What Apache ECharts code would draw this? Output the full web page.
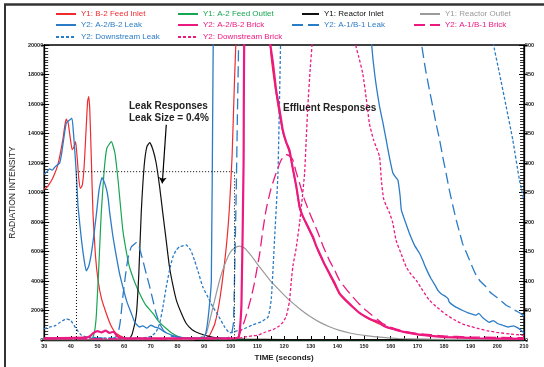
<!DOCTYPE html>
<html>
<head>
<meta charset="utf-8">
<script src="https://cdn.jsdelivr.net/npm/echarts@6/dist/echarts.min.js"></script>
<style>
  html, body { margin: 0; padding: 0; background: #fff; }
  #chart { width: 544px; height: 367px; }
</style>
</head>
<body>
<div id="chart"></div>
<script>
// [time (s), value] pairs
// Y1 series (left axis, 0-20000)
const b2FeedInlet = [[30,10230],[31,10350],[32,10600],[33,10900],[34,11300],[35,11800],[36,12600],[37,13600],[37.8,14600],[38.3,14970],[39,14700],[39.7,13800],[40.5,12900],[41.2,13100],[41.8,13450],[42.4,12300],[43,10900],[43.6,10280],[44.3,10500],[45,11800],[45.7,14200],[46.3,16200],[46.7,16500],[47.1,15600],[47.6,12800],[48.3,8600],[49.2,5800],[50.2,4050],[51.5,2800],[53.3,1800],[55,1000],[57,440],[60,150],[65,60],[70,40],[80,30],[88,40],[90,80],[92,300],[94,1100],[96,2900],[98.3,6300],[99.5,9000],[100.5,12500],[101.4,17650],[102.5,23000],[104,32000],[108,40000],[112,28000],[115,19500],[117,16700],[119.5,14100],[122,12700],[124.6,10300],[125.8,8950],[128.3,7850],[130.8,6900],[133.3,5800],[137,4450],[140.8,3100],[145.8,2200],[150.8,1520],[157,980],[162,660],[166,500],[171,350],[181,200],[193,120],[210,80]];
const a2FeedOutlet = [[30,20],[45,20],[48,100],[49,700],[49.6,1800],[50.5,5000],[51.4,8600],[52.5,11500],[53.5,13000],[55.2,13450],[56.5,12700],[57.7,10850],[59.5,7450],[61,5800],[62,4950],[64,3900],[65.8,3160],[68,2400],[70.8,1800],[73,1250],[75.8,780],[78,450],[80.8,190],[85,60],[90,20],[100,10],[210,0]];
const reactorInlet = [[30,30],[60,30],[62,100],[63,400],[64.6,1800],[65.5,4500],[66.4,8600],[67.5,11800],[68.5,13100],[69.6,13380],[70.8,12900],[72,12000],[73.3,10400],[74.5,8600],[75.8,6700],[77,4950],[78.3,3700],[79.6,2690],[81.5,1800],[83.3,1120],[85.5,700],[88.3,440],[93,200],[98,100],[105,60],[120,30],[210,10]];
const reactorOutlet = [[30,10],[86,10],[88.3,150],[90.8,440],[93,2000],[95.8,4050],[97.5,5000],[99.6,5880],[101.5,6250],[103.3,6360],[105,6250],[107.5,5750],[110.8,4950],[114.5,4100],[118.3,3370],[122,2700],[125.8,2120],[129.5,1620],[133.3,1210],[137,900],[140.8,650],[145,460],[150.8,300],[157,180],[163,100],[175,60],[190,40],[210,30]];

// Y2 series (right axis, 0-500)
const a2b2Leak = [[30,281],[31,285],[32,290],[33,288],[34,293],[35,297],[35.8,300],[36.5,315],[37.3,340],[38.3,368],[39.3,372],[40.4,376],[41,350],[41.8,300],[42.3,260],[42.7,226],[44,169],[45,135],[45.8,117],[46.7,125],[47.7,147],[48.7,180],[49.6,214],[50.6,255],[51.7,275],[52.5,268],[53.3,257],[54,240],[54.6,215],[55.8,175],[57.1,141],[58.3,112],[59.5,90],[61,65],[62.7,45],[64,30],[65.8,22],[67,24],[68.5,20],[70,25],[71.5,22],[73,20],[75,14],[78,8],[82,4],[88,3],[90,5],[90.8,15],[91.8,50],[92.7,101],[93.3,441],[93.6,600],[94,700],[150,700],[152.7,509],[154,450],[155.8,396],[157,370],[158.3,339],[159.5,310],[160.8,283],[162,275],[162.7,271],[163.5,245],[164,220],[165.5,200],[167,181],[169,160],[170.8,147],[172,135],[173.3,121],[175,105],[177,90],[177.7,84],[179,78],[180.8,73],[181.5,70],[182,64],[184,57],[187,50],[189,46],[190.5,44],[192,42],[193,45],[194.5,38],[197,30],[198.5,33],[200,28],[202,25],[204,22],[206,24],[207.5,21],[209,16],[210,12]];
const a2b2Brick = [[30,3],[45,4],[47,6],[48.5,12],[50,15],[51.5,13],[53,16],[54.5,12],[56,14],[57.5,6],[60,3],[100,3],[103,5],[104,60],[104.8,300],[105.5,600],[112,700],[114.6,509],[115.8,470],[117,424],[118.3,390],[119.5,356],[120.8,335],[122,322],[123.3,290],[124.6,260],[125.8,226],[127,210],[128.3,198],[129.6,186],[130.8,175],[132,160],[133.3,147],[135,130],[137,113],[139,96],[140.8,79],[143,68],[145.8,56],[148,47],[150.8,39],[153,34],[155.8,30],[157,25],[159,21],[160.8,19],[162,17],[165.8,13],[170.8,9],[175,7],[180.8,5],[193,3],[210,2]];
const a1b1Leak = [[30,3],[56,3],[57.5,8],[58.5,30],[59.5,73],[60.5,110],[61.5,140],[62.7,158],[64.6,165],[65.8,155],[67,135],[68.3,112],[69.6,90],[70.8,67],[72,45],[73.3,28],[75,15],[78,6],[85,3],[98,3],[100,6],[101,30],[102,242],[102.5,385],[103,520],[103.5,700],[170,700],[171.4,509],[173,460],[174.5,424],[175.8,395],[177,367],[178.3,340],[179.5,311],[180.8,282],[182,254],[183.3,228],[184.6,203],[185.8,183],[187,163],[188.3,149],[189.6,135],[190.8,122],[192,110],[193.5,100],[195.8,90],[197.5,80],[199.6,73],[201.5,66],[203.3,59],[205,55],[206,52],[208,47],[209.6,42],[210,41]];
const a1b1Brick = [[30,2],[100,2],[102.7,5],[105.2,33],[107.7,73],[108.8,95],[110,125],[110.8,145],[112,185],[113.3,222],[115,255],[117,283],[118.9,305],[120.8,314],[122,312],[123.3,305],[124.5,285],[125.8,266],[127.5,240],[129.6,215],[131.5,195],[133.3,175],[135,155],[137,135],[139,118],[140.8,101],[143,88],[145.8,73],[148,62],[150.8,50],[153,42],[155,35],[157,28],[160,22],[162.5,18],[165,15],[170,11],[175,9],[180,7],[190,5],[210,4]];
const downstreamLeak = [[30,19],[32,22],[34,24],[36,30],[38.3,36],[40,33],[42,19],[44,8],[46,5],[55,3],[65,3],[70,6],[72,14],[73.3,28],[74.5,55],[75.8,90],[77,118],[78.3,141],[79.5,152],[80.8,158],[83.3,161],[85,152],[86.4,135],[88,112],[89.5,90],[91.5,72],[93.3,56],[95.5,40],[97.7,22],[99.6,12],[102,15],[105,19],[108.3,26],[111.4,31],[114,39],[115.2,70],[116.4,169],[117.7,283],[118.7,509],[119.5,700],[197,700],[198.3,509],[200.8,452],[203.3,396],[205.8,339],[208.3,271],[210,237]];
const downstreamBrick = [[30,2],[100,2],[103,3],[105,5],[108,7],[110,8],[113.3,14],[116,18],[118.3,24],[119.5,30],[120.8,40],[122,65],[122.7,100],[123.3,125],[124.5,155],[125.8,198],[126.8,240],[127.7,283],[128.3,340],[128.9,396],[129.8,460],[130.6,509],[131.5,700],[145,700],[146.4,509],[148,480],[149.5,452],[150.8,410],[152,367],[153.5,340],[155.8,311],[156.5,270],[157.3,240],[158.3,228],[159.6,215],[160.8,198],[162,169],[164,145],[165.8,124],[167.5,112],[169.6,101],[172,84],[174.6,67],[177.5,55],[180.8,43],[184,34],[187,27],[190,23],[193.3,19],[196,16],[199.6,13],[205,10],[210,8]];

// dotted guide lines (Y1 units) and the arrow
const guideLine = [[42.1,0],[42.1,11410],[101.4,11410],[101.4,0]];
const arrowFrom = [75.8,14590];
const arrowTo = [74.3,10620];

const FONT = '"Liberation Sans", Arial, Helvetica, sans-serif';
const RED = '#ee2b2e', GREEN = '#17a651', BLACK = '#111111', GRAY = '#9a9a9a';
const BLUE = '#2b7cc6', PINK = '#ec1a80';

const chart = echarts.init(document.getElementById('chart'));

function line(name, data, yIdx, color, width, type) {
  return {
    name, type: 'line', data, yAxisIndex: yIdx,
    symbol: 'none', smooth: 0.15, animation: false,
    lineStyle: { color, width, type: type || 'solid' },
    itemStyle: { color },
  };
}

function legendAt(name, left, top, w, color) {
  return {
    data: [name], left, top, padding: 0, itemGap: 0,
    itemWidth: w, itemHeight: 8,
    itemStyle: { opacity: 0 },
    textStyle: { color, fontSize: 8, fontFamily: FONT },
    selectedMode: false,
  };
}

const plain = (v) => String(v);

const tickInside = {
  axisLine: { show: true, lineStyle: { color: '#000', width: 1.3 } },
  axisTick: { show: true, inside: true, length: 5, lineStyle: { color: '#000', width: 1 } },
  minorTick: { show: true, splitNumber: 10, length: 4, lineStyle: { color: '#000', width: 0.8 } },
  axisLabel: { show: false },
  splitLine: { show: false },
};
const tickOutside = {
  axisLine: { show: false },
  axisTick: { show: true, inside: false, length: 3, lineStyle: { color: '#000', width: 1 } },
  axisLabel: { show: true, fontSize: 5.5, fontWeight: 'bold', color: '#222', fontFamily: FONT, margin: 1, formatter: plain },
  splitLine: { show: false },
};

const option = {
  backgroundColor: '#fff',
  animation: false,
  textStyle: { fontFamily: FONT },
  grid: { left: 44, right: 20, top: 45, bottom: 27, show: true, borderColor: '#000', borderWidth: 1.3 },
  legend: [
    legendAt('Y1: B-2 Feed Inlet', 55, 10, 20, RED),
    legendAt('Y1: A-2 Feed Outlet', 177, 10, 20, GREEN),
    legendAt('Y1: Reactor Inlet', 301, 10, 17, BLACK),
    legendAt('Y1: Reactor Outlet', 419, 10, 20, GRAY),
    legendAt('Y2: A-2/B-2 Leak', 55, 21, 20, BLUE),
    legendAt('Y2: A-2/B-2 Brick', 177, 21, 20, PINK),
    legendAt('Y2: A-1/B-1 Leak', 291, 21, 27, BLUE),
    legendAt('Y2: A-1/B-1 Brick', 413, 21, 26, PINK),
    legendAt('Y2: Downstream Leak', 55, 33, 20, BLUE),
    legendAt('Y2: Downstream Brick', 177, 33, 20, PINK),
  ],
  xAxis: {
    type: 'value', min: 30, max: 210, interval: 10,
    name: 'TIME (seconds)', nameLocation: 'middle', nameGap: 11,
    nameTextStyle: { fontSize: 8, fontWeight: 'bold', color: '#222', fontFamily: FONT },
    axisLine: { show: true, lineStyle: { color: '#000', width: 1.3 } },
    axisTick: { show: true, inside: true, length: 4, lineStyle: { color: '#000' } },
    minorTick: { show: true, splitNumber: 2, length: 4, lineStyle: { color: '#000', width: 1 } },
    axisLabel: { fontSize: 5.5, fontWeight: 'bold', color: '#222', fontFamily: FONT, margin: 3, formatter: plain },
    splitLine: { show: false },
  },
  yAxis: [
    Object.assign({ type: 'value', position: 'left', min: 0, max: 20000, interval: 2000 }, tickInside),
    Object.assign({ type: 'value', position: 'right', min: 0, max: 500, interval: 50 }, tickInside),
    Object.assign({ type: 'value', position: 'left', min: 0, max: 20000, interval: 2000,
      name: 'RADIATION INTENSITY', nameLocation: 'middle', nameGap: 24,
      nameTextStyle: { fontSize: 8.5, color: '#222', fontFamily: FONT } }, tickOutside),
    Object.assign({ type: 'value', position: 'right', min: 0, max: 500, interval: 50 }, tickOutside),
  ],
  graphic: [
    { type: 'line', shape: { x1: 4, y1: 4.5, x2: 544, y2: 4.5 }, style: { stroke: '#333', lineWidth: 2.5 } },
    { type: 'line', shape: { x1: 5, y1: 4, x2: 5, y2: 367 }, style: { stroke: '#333', lineWidth: 2 } },
    { type: 'text', left: 129, top: 101, style: { text: 'Leak Responses', font: 'bold 10px ' + FONT, fill: '#222' } },
    { type: 'text', left: 129, top: 113, style: { text: 'Leak Size = 0.4%', font: 'bold 10px ' + FONT, fill: '#222' } },
    { type: 'text', left: 283, top: 103, style: { text: 'Effluent Responses', font: 'bold 10px ' + FONT, fill: '#222' } },
  ],
  series: [
    line('Y1: B-2 Feed Inlet', b2FeedInlet, 0, RED, 1.2),
    line('Y1: A-2 Feed Outlet', a2FeedOutlet, 0, GREEN, 1.2),
    line('Y1: Reactor Inlet', reactorInlet, 0, BLACK, 1.2),
    line('Y1: Reactor Outlet', reactorOutlet, 0, GRAY, 1.2),
    line('Y2: A-2/B-2 Leak', a2b2Leak, 1, BLUE, 1.3),
    line('Y2: A-1/B-1 Leak', a1b1Leak, 1, BLUE, 1.3, [11, 5]),
    line('Y2: Downstream Leak', downstreamLeak, 1, BLUE, 1.3, [3, 2]),
    line('Y2: A-1/B-1 Brick', a1b1Brick, 1, PINK, 1.3, [11, 5]),
    line('Y2: Downstream Brick', downstreamBrick, 1, PINK, 1.3, [3, 2]),
    line('Y2: A-2/B-2 Brick', a2b2Brick, 1, PINK, 2.2),
    {
      name: 'guide', type: 'line', data: guideLine, yAxisIndex: 0,
      symbol: 'none', animation: false,
      lineStyle: { color: '#000', width: 1, type: [1, 2] },
      markLine: {
        silent: true, symbol: ['none', 'arrow'], symbolSize: 6,
        label: { show: false },
        lineStyle: { color: '#000', width: 1.2, type: 'solid' },
        data: [[{ coord: arrowFrom }, { coord: arrowTo }]],
      },
    },
  ],
};

chart.setOption(option);
</script>
</body>
</html>
